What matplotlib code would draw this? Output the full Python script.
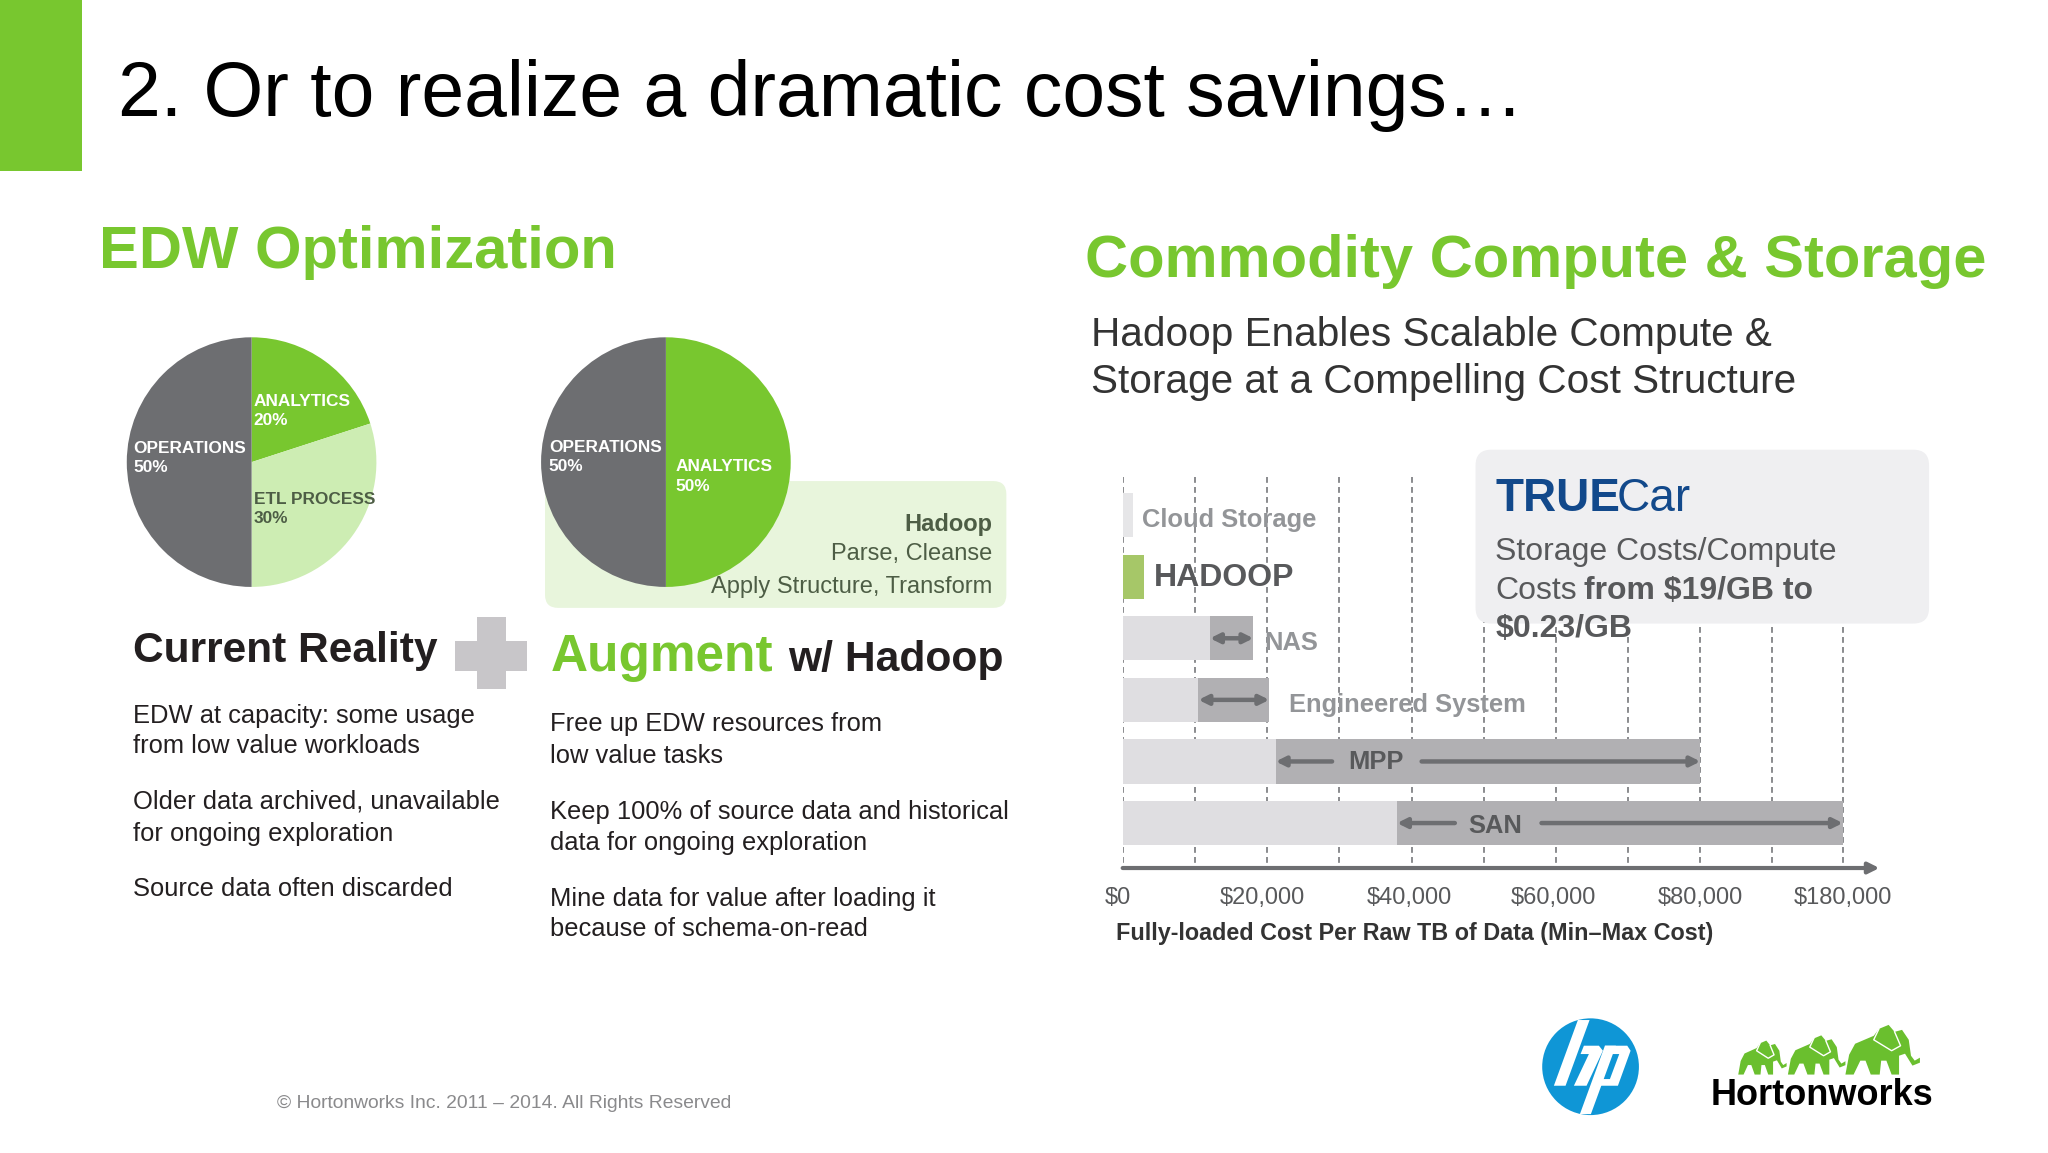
import numpy as np
import matplotlib
matplotlib.use("Agg")
import matplotlib.pyplot as plt
from matplotlib.patches import FancyBboxPatch, Rectangle, Circle, Polygon
from matplotlib.transforms import ScaledTranslation

plt.rcParams['font.family'] = ['Liberation Sans', 'DejaVu Sans']

# pies
pie_before_labels = ['ANALYTICS', 'ETL PROCESS', 'OPERATIONS']
pie_before_values = [20, 30, 50]
pie_after_labels = ['ANALYTICS', 'OPERATIONS']
pie_after_values = [50, 50]

# cost ranges, dollars per raw TB
systems = ['Cloud Storage', 'HADOOP', 'NAS', 'Engineered System', 'MPP', 'SAN']
cost_min = [1400, 2900, 12100, 10500, 21200, 38000]
cost_max = [1400, 2900, 18100, 20300, 80000, 180000]
grid_values = [0, 10000, 20000, 30000, 40000, 50000, 60000, 70000, 80000, 130000, 180000]
tick_values = [0, 20000, 40000, 60000, 80000, 180000]
tick_labels = ['$0', '$20,000', '$40,000', '$60,000', '$80,000', '$180,000']
tick_nudge = [-4, -4, -2, -2, 0, 0]

GREEN = '#78c72f'
PALE = '#cdedb3'
GREY = '#6d6e71'
W, H = 1567, 882   # working coords of the slide

fig = plt.figure(figsize=(20.48, 11.53), dpi=100)


def px_axes(x0, y0, x1, y1, z):
    a = fig.add_axes([x0 / W, 1 - y1 / H, (x1 - x0) / W, (y1 - y0) / H], zorder=z)
    a.patch.set_alpha(0)
    return a


# ---- range chart, axis is broken after 80k
def fwd(x):
    return np.interp(x, [0, 80000, 180000, 260000], [0, 442, 551, 638])


def inv(p):
    return np.interp(p, [0, 442, 551, 638], [0, 80000, 180000, 260000])


ax = px_axes(859, 365, 1438, 664, 1)
ax.set_xscale('function', functions=(fwd, inv))
ax.set_xlim(0, inv(579))
ax.set_ylim(5.73, -0.616)
ax.vlines(grid_values, -0.616, 5.73, color='#77787b', lw=1.2, ls=(0, (3.5, 2.5)), zorder=1)

for i, name in enumerate(systems):
    if i < 2:
        col = '#e6e6e8' if i == 0 else '#a6c768'
        ax.barh(i, cost_min[i], height=0.72, color=col, zorder=2)
    else:
        ax.barh(i, cost_max[i], height=0.72, color='#b1b0b3', zorder=2)
        ax.barh(i, cost_min[i], height=0.72, color='#dfdee1', zorder=3)

arrow = dict(arrowstyle='<|-|>', color=GREY, lw=3.2, shrinkA=0, shrinkB=0, mutation_scale=14)
one_way = dict(arrowstyle='-|>', color=GREY, lw=3.2, shrinkA=0, shrinkB=0, mutation_scale=14)
for i in [2, 3]:
    ax.annotate('', xy=(cost_max[i], i), xytext=(cost_min[i], i), arrowprops=arrow, zorder=4)
for i, gap_l, gap_r in [(4, 29000, 41400), (5, 46000, 58000)]:
    ax.annotate('', xy=(cost_min[i], i), xytext=(gap_l, i), arrowprops=one_way, zorder=4)
    ax.annotate('', xy=(cost_max[i], i), xytext=(gap_r, i), arrowprops=one_way, zorder=4)

for side in ['top', 'left', 'right', 'bottom']:
    ax.spines[side].set_visible(False)
ax.annotate('', xy=(1, 0), xytext=(0, 0), xycoords='axes fraction', textcoords='axes fraction',
            arrowprops=dict(arrowstyle='-|>', color=GREY, lw=3, shrinkA=0, shrinkB=0, mutation_scale=16))
ax.set_yticks([])
ax.set_xticks(tick_values)
ax.set_xticklabels(tick_labels, fontsize=17, color='#58595b')
ax.tick_params(axis='x', length=0, pad=14)
ax.xaxis.set_minor_locator(matplotlib.ticker.NullLocator())
for lbl, dx in zip(ax.get_xticklabels(), tick_nudge):
    lbl.set_transform(lbl.get_transform() + ScaledTranslation(dx * 1.307 / 100, 0, fig.dpi_scale_trans))

# ---- shapes under the pies
base = px_axes(0, 0, W, H, 2)
base.set_xlim(0, W)
base.set_ylim(H, 0)
base.axis('off')
base.add_patch(Rectangle((0, 0), 63, 131, color=GREEN, lw=0))
base.add_patch(FancyBboxPatch((425, 376), 337, 81, boxstyle='round,pad=8,rounding_size=10',
                              fc='#e8f5dc', ec='none'))
base.add_patch(FancyBboxPatch((1139, 354), 327, 113, boxstyle='round,pad=10,rounding_size=12',
                              fc='#efeff1', ec='none'))
base.add_patch(Rectangle((365, 472), 22, 55, color='#c8c6c9', lw=0))
base.add_patch(Rectangle((348, 490), 55, 23, color='#c8c6c9', lw=0))

# ---- pies
p1 = px_axes(97, 258, 288, 449, 3)
p1.pie(pie_before_values, colors=[GREEN, PALE, GREY], startangle=90, counterclock=False, radius=1)
p1.set_xlim(-1, 1)
p1.set_ylim(-1, 1)
p2 = px_axes(414, 258, 605, 449, 3)
p2.pie(pie_after_values, colors=[GREEN, GREY], startangle=90, counterclock=False, radius=1)
p2.set_xlim(-1, 1)
p2.set_ylim(-1, 1)

# ---- all the text
t = px_axes(0, 0, W, H, 4)
t.set_xlim(0, W)
t.set_ylim(H, 0)
t.axis('off')


def label(x, y, s, size, color='#231f20', weight='normal', ha='left'):
    return t.text(x, y, s, fontsize=size, color=color, fontweight=weight, ha=ha, va='center')


label(90, 73, '2. Or to realize a dramatic cost savings…', 55.4, '#000000')
label(76, 193, 'EDW Optimization', 43, GREEN, 'bold')
label(830, 200, 'Commodity Compute & Storage', 42.9, GREEN, 'bold')
label(835, 256, 'Hadoop Enables Scalable Compute &', 29.2, '#333333')
label(835, 292, 'Storage at a Compelling Cost Structure', 29.2, '#333333')

label(194, 307, pie_before_labels[0], 12.4, 'white', 'bold')
label(194, 322, '%d%%' % pie_before_values[0], 12.4, 'white', 'bold')
label(194, 382, pie_before_labels[1], 12.4, '#4d5d45', 'bold')
label(194, 397, '%d%%' % pie_before_values[1], 12.4, '#4d5d45', 'bold')
label(102, 343, pie_before_labels[2], 12.4, 'white', 'bold')
label(102, 358, '%d%%' % pie_before_values[2], 12.4, 'white', 'bold')
label(517, 357, pie_after_labels[0], 12.4, 'white', 'bold')
label(517, 372, '%d%%' % pie_after_values[0], 12.4, 'white', 'bold')
label(420, 342, pie_after_labels[1], 12.4, 'white', 'bold')
label(420, 357, '%d%%' % pie_after_values[1], 12.4, 'white', 'bold')

label(759, 401, 'Hadoop', 17, '#4d5d45', 'bold', 'right')
label(759, 424, 'Parse, Cleanse', 17, '#4d5d45', ha='right')
label(759, 449, 'Apply Structure, Transform', 17, '#4d5d45', ha='right')

label(102, 498, 'Current Reality', 30.6, '#231f20', 'bold')
label(421, 503, 'Augment', 37, GREEN, 'bold')
label(603, 505, 'w/ Hadoop', 30.7, '#231f20', 'bold')

left = [('EDW at capacity: some usage', 548), ('from low value workloads', 571),
        ('Older data archived, unavailable', 613), ('for ongoing exploration', 638),
        ('Source data often discarded', 680)]
for s, y in left:
    label(102, y, s, 18.4)
right = [('Free up EDW resources from', 554), ('low value tasks', 578),
         ('Keep 100% of source data and historical', 621), ('data for ongoing exploration', 645),
         ('Mine data for value after loading it', 688), ('because of schema-on-read', 711)]
for s, y in right:
    label(421, y, s, 18.4)

label(874, 398, systems[0], 18.4, '#939598', 'bold')
label(883, 442, systems[1], 23, '#58595b', 'bold')
label(967, 492, systems[2], 18.4, '#939598', 'bold')
label(986, 539, systems[3], 18.4, '#939598', 'bold')
label(1053, 583, systems[4], 18.4, '#58595b', 'bold', 'center')
label(1144, 632, systems[5], 18.4, '#58595b', 'bold', 'center')
label(854, 714, 'Fully-loaded Cost Per Raw TB of Data (Min–Max Cost)', 16.8, '#333333', 'bold')

label(1144, 382, 'TRUE', 33, '#12498b', 'bold')
label(1237, 382, 'Car', 33, '#12498b')
label(1144, 422, 'Storage Costs/Compute', 23, '#58595b')
label(1144, 452, 'Costs', 23, '#58595b')
label(1212, 452, 'from $19/GB to', 23, '#58595b', 'bold')
label(1144, 481, '$0.23/GB', 23, '#58595b', 'bold')

label(212, 844, '© Hortonworks Inc. 2011 – 2014. All Rights Reserved', 13.9, '#8a8a8c')

# ---- logos
hp_xy, hp_r = (1217, 816), 37
t.add_patch(Circle(hp_xy, hp_r, color='#0f96d6', lw=0))
hp_shapes = [[(172, 58), (207, 58), (135, 255), (100, 255)],
             [(190, 135), (235, 135), (247, 150), (198, 255), (160, 255), (205, 160), (180, 160)],
             [(253, 135), (286, 135), (211, 340), (178, 340)],
             [(253, 135), (320, 135), (330, 150), (292, 255), (235, 255), (243, 235), (268, 235),
              (296, 160), (262, 160)]]
for shape in hp_shapes:
    pts = (np.array(shape) - [210, 198]) / 145 * hp_r + hp_xy
    t.add_patch(Polygon(pts, color='white', lw=0))


def elephant(x0, y0, w, h):
    shape = np.array([(0, 1), (0.05, 0.6), (0.13, 0.38), (0.38, 0.22), (0.45, 0.08), (0.58, 0), (0.66, 0.14),
                      (0.76, 0.1), (0.85, 0.3), (0.88, 0.62), (0.93, 0.72), (1, 0.66), (1, 0.76), (0.9, 0.82),
                      (0.8, 0.58), (0.72, 0.62), (0.72, 1), (0.62, 1), (0.55, 0.72), (0.48, 0.72), (0.46, 1),
                      (0.34, 1), (0.27, 0.72), (0.2, 0.72), (0.11, 1)])
    t.add_patch(Polygon(shape * [w, h] + [x0, y0], color='#6abf2e', lw=0))
    ear = np.array([(0.45, 0.08), (0.38, 0.3), (0.62, 0.52), (0.74, 0.42), (0.66, 0.14)])
    t.plot(*(ear * [w, h] + [x0, y0]).T, color='white', lw=1)


elephant(1330, 796, 37, 26)
elephant(1368, 792, 44, 30)
elephant(1412, 784, 57, 38)
t.text(1394, 838, 'Hortonworks', fontsize=26, color='#000000', fontweight='bold', ha='center', va='center')

fig.savefig('out.png', dpi=100)
